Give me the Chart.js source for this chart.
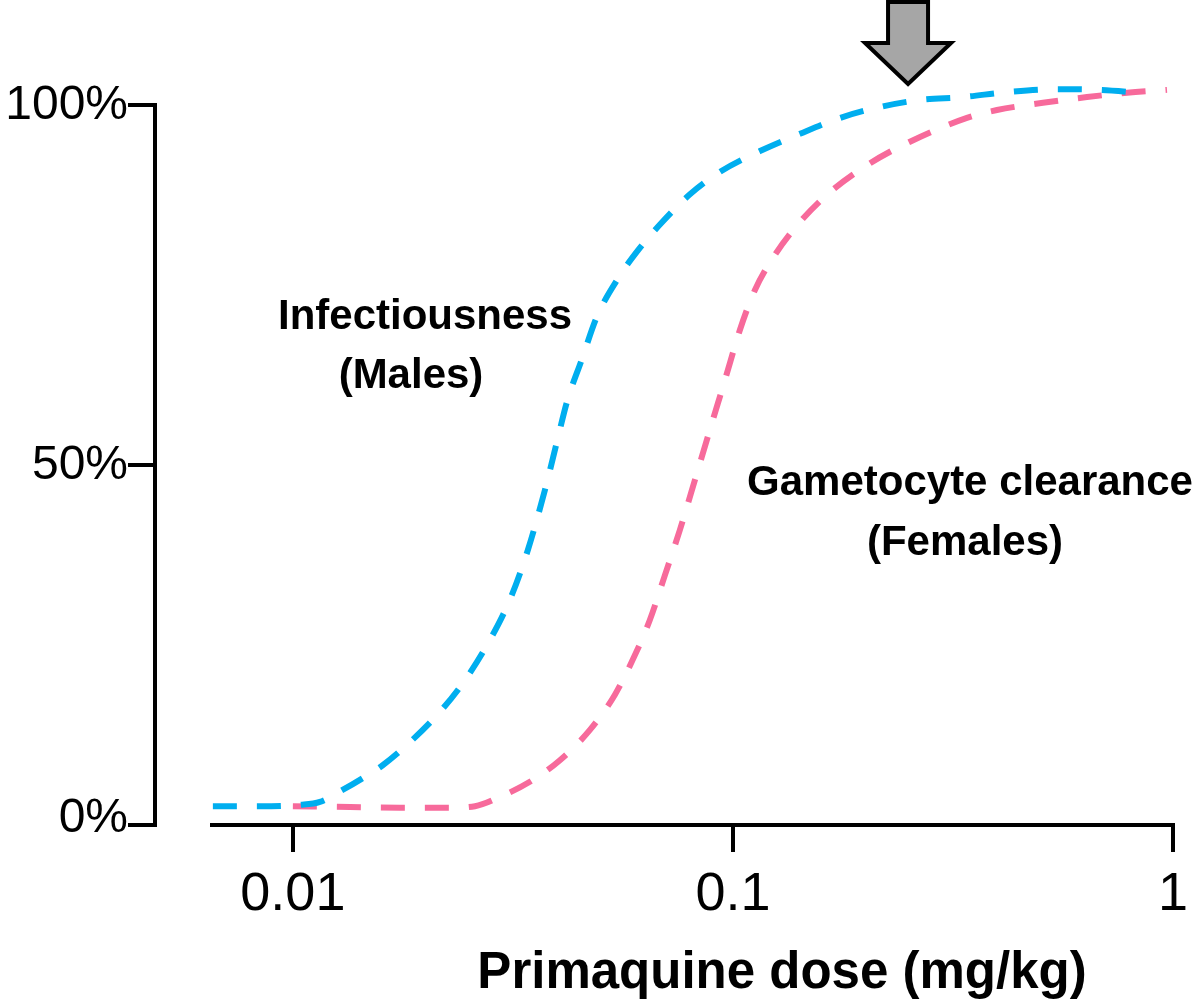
<!DOCTYPE html>
<html><head><meta charset="utf-8">
<script src="https://cdn.jsdelivr.net/npm/chart.js@4/dist/chart.umd.min.js"></script>
<style>html,body{margin:0;padding:0;background:#fff}#wrap{width:1200px;height:1002px}</style>
</head><body><div id="wrap"><canvas id="c" width="1200" height="1002"></canvas></div>
<script>
// ---- data ----
const doseTicks = [0.01, 0.1, 1];
const doseTickLabels = ['0.01', '0.1', '1'];
const pctTicks = [0, 50, 100];
const pctTickLabels = ['0%', '50%', '100%'];

const maleDose = [0.00658, 0.00841, 0.01037, 0.01152, 0.0130, 0.01458, 0.0160, 0.01845, 0.02158, 0.0246, 0.02804, 0.03113, 0.0342, 0.03738, 0.03981, 0.04195, 0.04537, 0.04908, 0.05507, 0.06083, 0.06826, 0.07987, 0.09343, 0.1152, 0.142, 0.1751, 0.2081, 0.2661, 0.3333, 0.4195, 0.545, 0.6826, 0.8414];
const malePct = [2.6, 2.6, 2.8, 3.2, 4.9, 6.7, 8.3, 11.5, 15.7, 20.1, 25.7, 31.3, 38.2, 46.5, 53.2, 58.75, 64.7, 70.6, 76.1, 79.8, 83.4, 87.6, 90.7, 93.6, 96.0, 98.2, 99.5, 100.7, 101.1, 101.8, 102.2, 102.1, 101.7];

const femaleDose = [0.01, 0.01348, 0.01751, 0.02275, 0.02593, 0.02954, 0.03456, 0.04044, 0.04732, 0.05393, 0.05988, 0.06477, 0.07006, 0.07577, 0.08195, 0.08865, 0.0959, 0.1037, 0.1122, 0.1246, 0.142, 0.1662, 0.2048, 0.2525, 0.3402, 0.3981, 0.5064, 0.6376, 0.7863, 0.9691];
const femalePct = [2.6, 2.5, 2.4, 2.4, 2.6, 3.9, 6.0, 9.0, 13.2, 18.1, 23.6, 28.5, 34.7, 41.0, 47.9, 54.9, 61.8, 68.75, 74.3, 79.2, 83.75, 87.9, 91.9, 94.9, 98.2, 99.3, 100.3, 101.1, 101.7, 102.1];

const arrowDose = 0.25;
const xTitle = 'Primaquine dose (mg/kg)';
const maleLabel = ['Infectiousness', '(Males)'];
const femaleLabel = ['Gametocyte clearance', '(Females)'];

// ---- styles ----
const FONT = '"Liberation Sans", Arial, Helvetica, sans-serif';
const BLUE = '#00AEEF';
const PINK = '#F76A9B';

const pts = (xs, ys) => xs.map((x, i) => ({x: x, y: ys[i]}));
const pickLabel = (v, vals, labs) => {
  let best = 0;
  vals.forEach((t, i) => { if (Math.abs(Math.log10(t) - Math.log10(v)) < Math.abs(Math.log10(vals[best]) - Math.log10(v))) best = i; });
  return labs[best];
};

// y axis drawn offset to the left of the plot area, using the y scale's own pixel mapping
const yAxisOffset = {
  id: 'yAxisOffset',
  afterDraw(chart) {
    const ctx = chart.ctx;
    const ys = chart.scales.y;
    const spineX = chart.chartArea.left - 57;
    const tickLen = 27;
    ctx.save();
    ctx.strokeStyle = '#000';
    ctx.lineWidth = 4;
    ctx.lineCap = 'butt';
    const yTop = ys.getPixelForValue(pctTicks[pctTicks.length - 1]);
    const yBot = ys.getPixelForValue(pctTicks[0]);
    ctx.beginPath();
    ctx.moveTo(spineX, yTop - 2);
    ctx.lineTo(spineX, yBot + 2);
    ctx.stroke();
    ctx.fillStyle = '#000';
    ctx.font = '48px ' + FONT;
    ctx.textAlign = 'right';
    ctx.textBaseline = 'middle';
    pctTicks.forEach((v, i) => {
      const py = ys.getPixelForValue(v);
      ctx.beginPath();
      ctx.moveTo(spineX + 2, py);
      ctx.lineTo(spineX - tickLen, py);
      ctx.stroke();
      ctx.fillText(pctTickLabels[i], spineX - tickLen, py + (v === 0 ? -6 : 1));
    });
    ctx.restore();
  }
};

const decor = {
  id: 'decor',
  afterDraw(chart) {
    const ctx = chart.ctx;
    const xs = chart.scales.x;
    ctx.save();
    // arrow
    const ax = xs.getPixelForValue(arrowDose);
    ctx.beginPath();
    ctx.moveTo(ax - 20, 2);
    ctx.lineTo(ax + 20, 2);
    ctx.lineTo(ax + 20, 43);
    ctx.lineTo(ax + 43, 43);
    ctx.lineTo(ax, 84);
    ctx.lineTo(ax - 43, 43);
    ctx.lineTo(ax - 20, 43);
    ctx.closePath();
    ctx.fillStyle = '#A6A6A6';
    ctx.fill();
    ctx.lineWidth = 4;
    ctx.lineJoin = 'miter';
    ctx.strokeStyle = '#000';
    ctx.stroke();
    // annotations
    ctx.fillStyle = '#000';
    ctx.textAlign = 'center';
    ctx.textBaseline = 'alphabetic';
    ctx.font = 'bold 42px ' + FONT;
    ctx.fillText(maleLabel[0], 425, 329);
    ctx.fillText(maleLabel[1], 411, 388);
    ctx.fillText(femaleLabel[0], 970, 495);
    ctx.fillText(femaleLabel[1], 965, 555);
    // x title
    ctx.font = 'bold 51px ' + FONT;
    ctx.fillText(xTitle, 782, 988);
    ctx.restore();
  }
};

new Chart(document.getElementById('c'), {
  type: 'line',
  data: {
    datasets: [
      {label: 'Infectiousness (Males)', data: pts(maleDose, malePct), borderColor: BLUE, borderWidth: 6, borderDash: [24, 20], borderCapStyle: 'butt', pointRadius: 0, cubicInterpolationMode: 'monotone', clip: false, fill: false},
      {label: 'Gametocyte clearance (Females)', data: pts(femaleDose, femalePct), borderColor: PINK, borderWidth: 6, borderDash: [24, 20], borderCapStyle: 'butt', pointRadius: 0, cubicInterpolationMode: 'monotone', clip: false, fill: false}
    ]
  },
  options: {
    responsive: false,
    animation: false,
    devicePixelRatio: 1,
    layout: {padding: {left: 212, right: 27, top: 105, bottom: 0}},
    plugins: {legend: {display: false}, tooltip: {enabled: false}, title: {display: false}},
    scales: {
      x: {
        type: 'logarithmic',
        position: 'bottom',
        min: 0.00655,
        max: 1,
        afterBuildTicks: s => { s.ticks = doseTicks.map(v => ({value: v})); },
        afterFit: s => { s.height = 177; },
        ticks: {
          callback: v => pickLabel(v, doseTicks, doseTickLabels),
          font: {family: FONT, size: 54},
          color: '#000',
          padding: 11,
          maxRotation: 0,
          autoSkip: false
        },
        grid: {drawOnChartArea: false, drawTicks: true, tickLength: 27, color: '#000', lineWidth: 4},
        border: {display: true, color: '#000', width: 4}
      },
      y: {
        type: 'linear',
        display: false,
        min: 0,
        max: 100
      }
    }
  },
  plugins: [yAxisOffset, decor]
});
</script></body></html>
